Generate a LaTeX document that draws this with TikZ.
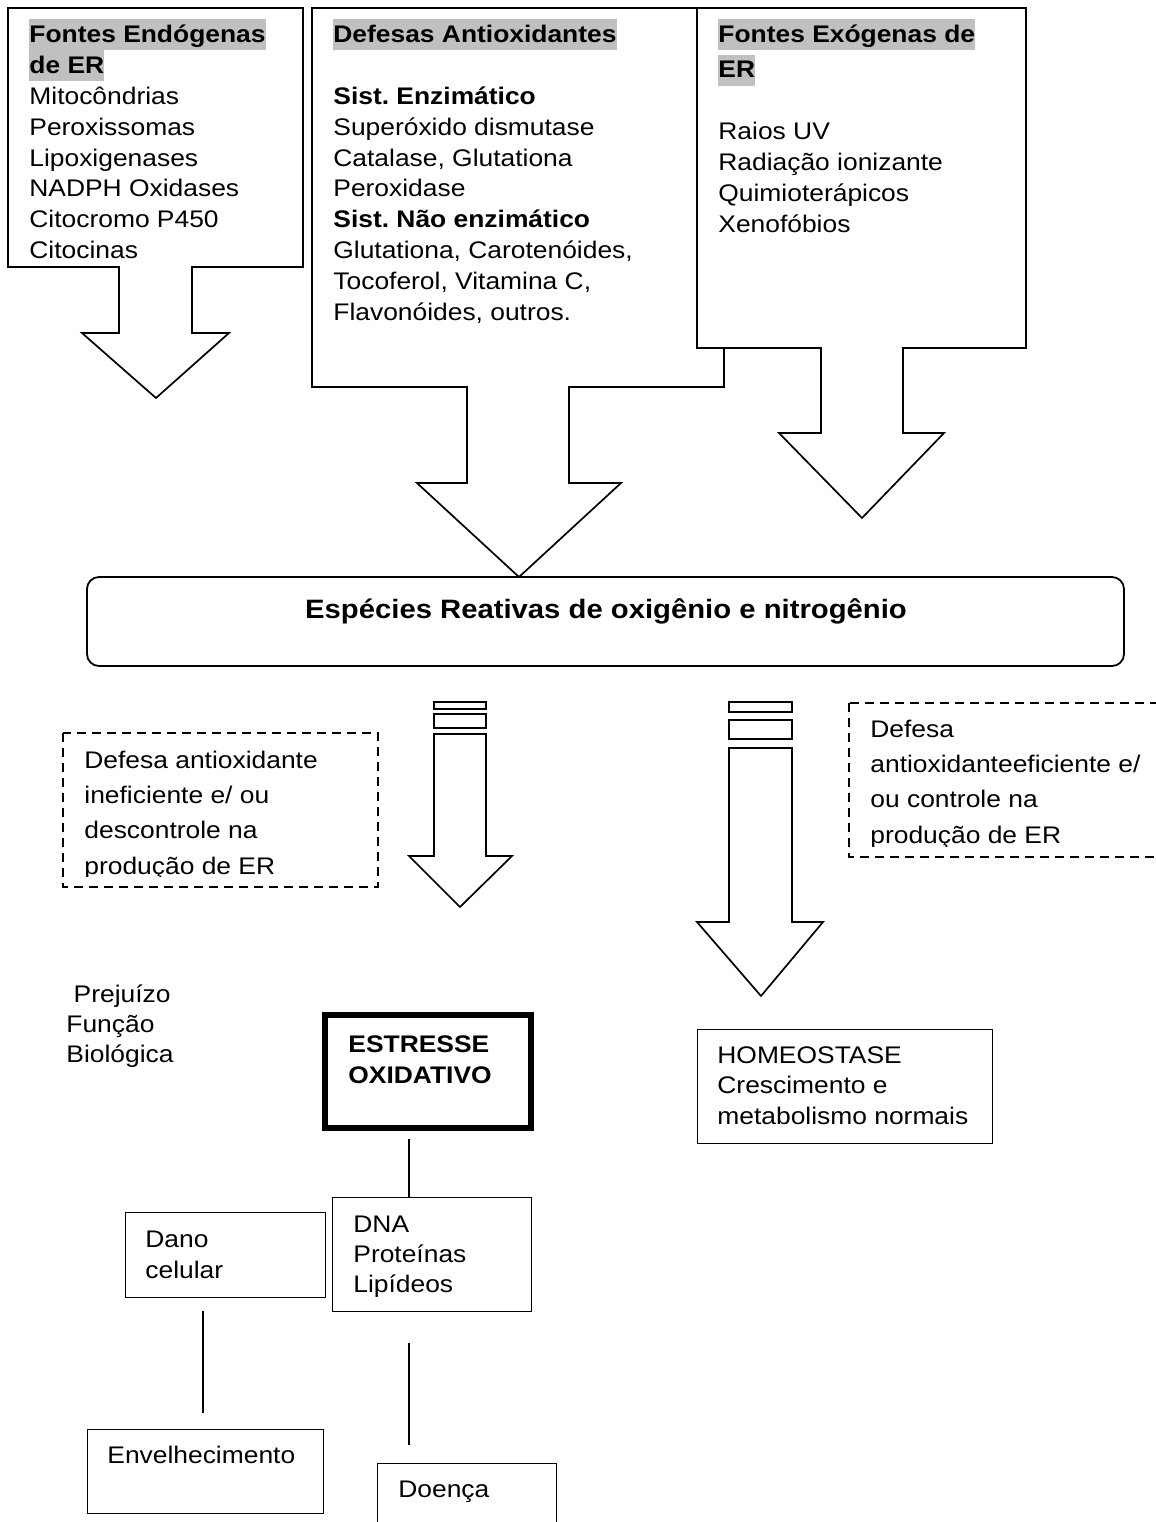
\documentclass[tikz,border=0pt]{standalone}
\usepackage{fontspec}
\setmainfont{Liberation Sans}[FakeStretch=1.1]
\usetikzlibrary{positioning}
\frenchspacing

\definecolor{hlgray}{RGB}{192,192,192}
\newcommand{\hl}[1]{{\setlength{\fboxsep}{0pt}\colorbox{hlgray}{\rule[-4pt]{0pt}{15.5pt}#1}}}
\newcommand{\topstrut}{\rule{0pt}{11pt}}

\tikzset{
  txt/.style={anchor=north west, inner sep=0pt, align=left,
    font={\fontsize{12}{15.45}\selectfont\lineskiplimit=-20pt}},
  wide/.style={font={\fontsize{12}{17.6}\selectfont\lineskiplimit=-20pt}},
  callout/.style={draw, line width=0.85pt, fill=white},
  thinbox/.style={draw, line width=0.5pt},
  dashbox/.style={draw, line width=1pt, dash pattern=on 4.5pt off 3pt},
  link/.style={draw, line width=0.65pt},
}

\begin{document}
\begin{tikzpicture}[x=0.5pt, y=-0.5pt]
  \useasboundingbox (0,0) rectangle (1156,1522);

  % sources and defences
  \draw[callout] (8,8) -- (303,8) -- (303,267) -- (192,267) -- (192,333) -- (229,333)
    -- (156,398) -- (82,333) -- (119,333) -- (119,267) -- (8,267) -- cycle;
  \draw[callout] (312,8) -- (724,8) -- (724,387) -- (569,387) -- (569,483) -- (621,483)
    -- (519,577) -- (417,483) -- (467,483) -- (467,387) -- (312,387) -- cycle;
  \draw[callout] (697,8) -- (1026,8) -- (1026,348) -- (903,348) -- (903,433) -- (944,433)
    -- (862,518) -- (779,433) -- (821,433) -- (821,348) -- (697,348) -- cycle;

  \node[txt] (endo) at (29,19) {\hl{\bfseries Fontes Endógenas}\\ \hl{\bfseries de ER}\\
    Mitocôndrias\\ Peroxissomas\\ Lipoxigenases\\ NADPH Oxidases\\ Citocromo P450\\ Citocinas};
  \node[txt] (defesas) at (333,19) {\hl{\bfseries Defesas Antioxidantes}\\ \\
    \textbf{Sist. Enzimático}\\ Superóxido dismutase\\ Catalase, Glutationa\\ Peroxidase\\
    \textbf{Sist. Não enzimático}\\ Glutationa, Carotenóides,\\ Tocoferol, Vitamina C,\\
    Flavonóides, outros.};
  \node[txt, wide] (exo) at (718,19) {\hl{\bfseries Fontes Exógenas de}\\ \hl{\bfseries ER}};
  \node[txt] (exolist) at (718,117) {\topstrut Raios UV\\ Radiação ionizante\\
    Quimioterápicos\\ Xenofóbios};

  % reactive species
  \draw[line width=0.9pt, rounded corners=6pt] (87,577) rectangle (1124,666);
  \node[font=\fontsize{13.3}{16}\selectfont\bfseries, inner sep=0pt, anchor=base] (especies)
    at (606,618) {Espécies Reativas de oxigênio e nitrogênio};

  % the two ways out
  \foreach \xa/\xb/\ya/\yb/\yc/\yd in {434/486/702/709/714/728, 729/792/702/712/720/739} {
    \draw[line width=0.85pt] (\xa,\ya) rectangle (\xb,\yb);
    \draw[line width=0.85pt] (\xa,\yc) rectangle (\xb,\yd);
  }
  \draw[line width=0.85pt] (434,734) -- (486,734) -- (486,856) -- (512,856) -- (460,907)
    -- (409,856) -- (434,856) -- cycle;
  \draw[line width=0.85pt] (729,748) -- (792,748) -- (792,922) -- (823,922) -- (761,996)
    -- (697,922) -- (729,922) -- cycle;

  \draw[dashbox] (63,733) rectangle (378,887);
  \begin{scope}
    \clip (63,733) rectangle (378,876);
    \node[txt, wide] (inef) at (84,746) {\topstrut Defesa antioxidante\\ ineficiente e/ ou\\
      descontrole na\\ produção de ER};
  \end{scope}
  \draw[dashbox] (849,703) rectangle (1180,857);
  \begin{scope}
    \clip (849,703) rectangle (1156,846);
    \node[txt, wide] (efic) at (870,715) {\topstrut Defesa\\ antioxidanteeficiente e/\\
      ou controle na\\ produção de ER};
  \end{scope}

  % consequences
  \node[txt, font={\fontsize{12}{15}\selectfont}] (prejuizo) at (66,980)
    {\topstrut\ Prejuízo\\ Função\\ Biológica};

  \draw[line width=3pt] (325,1015) rectangle (531,1128);
  \node[txt, font={\fontsize{12}{15.5}\selectfont\bfseries}] (stress) at (348,1030)
    {\topstrut ESTRESSE\\ OXIDATIVO};

  \draw[thinbox] (697,1029) rectangle (992,1143);
  \node[txt, font={\fontsize{12}{15.2}\selectfont}] (homeo) at (717,1041)
    {\topstrut HOMEOSTASE\\ Crescimento e\\ metabolismo normais};

  \draw[thinbox] (332,1197) rectangle (531,1311);
  \node[txt, font={\fontsize{12}{15}\selectfont}] (alvos) at (353,1210)
    {\topstrut DNA\\ Proteínas\\ Lipídeos};
  \draw[thinbox] (125,1212) rectangle (325,1297);
  \node[txt] (dano) at (145,1225) {\topstrut Dano\\ celular};
  \draw[thinbox] (87,1429) rectangle (323,1513);
  \node[txt] (envelh) at (107,1441) {\topstrut Envelhecimento};
  \draw[thinbox] (377,1463) rectangle (556,1540);
  \node[txt] (doenca) at (398,1475) {\topstrut Doença};

  \coordinate (stressout) at (409,1139);
  \coordinate (alvosin) at (409,1197);
  \coordinate (danoout) at (203,1311);
  \coordinate (envelhin) at (203,1413);
  \coordinate (alvosout) at (409,1343);
  \coordinate (doencain) at (409,1445);
  \draw[link] (stressout) -- (alvosin);
  \draw[link] (danoout) -- (envelhin);
  \draw[link] (alvosout) -- (doencain);
\end{tikzpicture}
\end{document}
